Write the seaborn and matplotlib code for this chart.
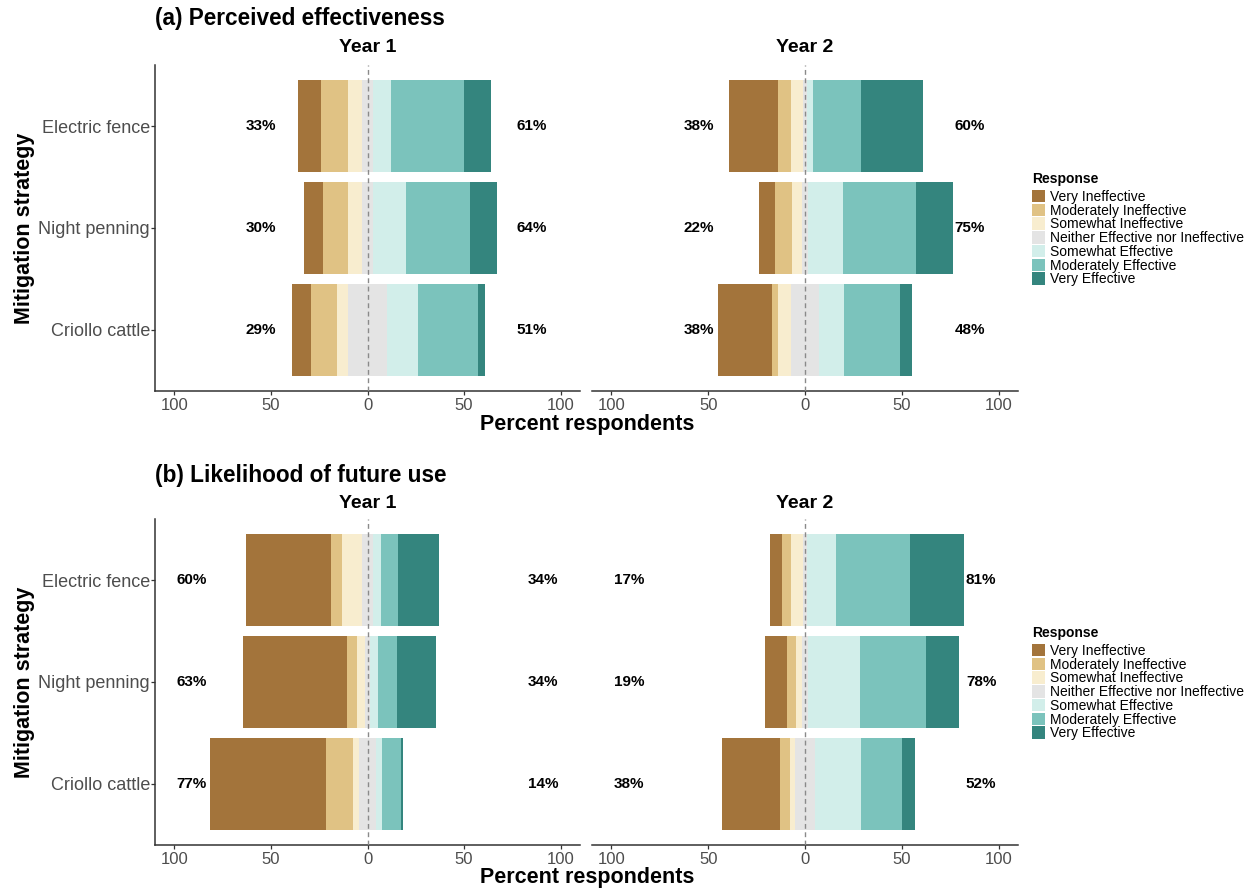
import numpy as np
import pandas as pd
import matplotlib
matplotlib.use("Agg")
import matplotlib.pyplot as plt
from matplotlib.patches import Patch
import seaborn as sns

# ---- data: percent of respondents in each response level ----
strategies = ["Electric fence", "Night penning", "Criollo cattle"]
responses = ["Very Ineffective", "Moderately Ineffective", "Somewhat Ineffective",
             "Neither Effective nor Ineffective", "Somewhat Effective",
             "Moderately Effective", "Very Effective"]
colors = ["#A3743B", "#E0C284", "#F8EDCF", "#E4E4E4", "#D2EEEA", "#7BC3BC", "#34857E"]

# rows follow `strategies`, columns follow `responses`
effect_year1 = [[12, 14, 7, 6, 9, 38, 14],
                [10, 13, 7, 6, 17, 33, 14],
                [10, 13, 6, 20, 16, 31, 4]]
effect_year2 = [[25, 7, 6, 2, 3, 25, 32],
                [8, 9, 5, 3, 18, 38, 19],
                [28, 3, 7, 14, 13, 29, 6]]
future_year1 = [[44, 6, 10, 6, 4, 9, 21],
                [54, 5, 4, 3, 4, 10, 20],
                [60, 14, 3, 9, 3, 10, 1]]
future_year2 = [[6, 5, 6, 2, 15, 38, 28],
                [11, 5, 3, 3, 27, 34, 17],
                [30, 5, 3, 10, 24, 21, 7]]

panel_titles = ["(a) Perceived effectiveness", "(b) Likelihood of future use"]
year_titles = ["Year 1", "Year 2"]
tick_values = [-100, -50, 0, 50, 100]
tick_labels = ["100", "50", "0", "50", "100"]

FONT = "Liberation Sans"
sns.set_theme(style="white")
plt.rcParams["font.family"] = [FONT, "DejaVu Sans"]
plt.rcParams["text.color"] = "black"

W, H = 1256, 892
fig = plt.figure(figsize=(W / 100, H / 100), dpi=100)


def fx(px):
    return px / W


def fy(py):
    return 1 - py / H


def add_axes_px(left, top, right, bottom):
    return fig.add_axes([fx(left), fy(bottom), fx(right) - fx(left), fy(top) - fy(bottom)])


# stacking layers: outer segments first, inner ones painted on top
layer_order = ["VI-", "MI-", "SI-", "N-", "VE+", "ME+", "SE+", "N+"]
layer_colors = {"VI-": colors[0], "MI-": colors[1], "SI-": colors[2], "N-": colors[3],
                "VE+": colors[6], "ME+": colors[5], "SE+": colors[4], "N+": colors[3]}


def diverging_frame(values):
    v = np.asarray(values, dtype=float)
    half = v[:, 3] / 2
    rows = []
    for i, s in enumerate(strategies):
        neg = np.cumsum(v[i, 2::-1])          # SI, SI+MI, SI+MI+VI
        pos = np.cumsum(v[i, 4:])             # SE, SE+ME, SE+ME+VE
        ends = {"VI-": -(half[i] + neg[2]), "MI-": -(half[i] + neg[1]),
                "SI-": -(half[i] + neg[0]), "N-": -half[i],
                "VE+": half[i] + pos[2], "ME+": half[i] + pos[1],
                "SE+": half[i] + pos[0], "N+": half[i]}
        for layer in layer_order:
            rows.append({"strategy": s, "layer": layer, "value": ends[layer]})
    return pd.DataFrame(rows)


def draw_facet(ax, values, label_pos, first):
    df = diverging_frame(values)
    sns.barplot(data=df, x="value", y="strategy", hue="layer", hue_order=layer_order,
                palette=layer_colors, order=strategies, orient="h", dodge=False,
                width=0.9, saturation=1, errorbar=None, legend=False,
                linewidth=0, ax=ax)
    ax.axvline(0, color="#8a8a8a", lw=1.0, ls=(0, (3.5, 2.5)), zorder=5)

    v = np.asarray(values)
    for i in range(len(strategies)):
        ax.text(label_pos[0], i, f"{int(v[i, :3].sum())}%", ha="center", va="center",
                fontsize=11, fontweight="bold", color="black")
        ax.text(label_pos[1], i, f"{int(v[i, 4:].sum())}%", ha="center", va="center",
                fontsize=11, fontweight="bold", color="black")

    ax.set_xlim(-110, 110)
    ax.set_ylim(2.6, -0.6)
    ax.set_xticks(tick_values)
    ax.set_xticklabels(tick_labels)
    ax.set_xlabel("")
    ax.set_ylabel("")
    for side in ["top", "right"]:
        ax.spines[side].set_visible(False)
    for side in ["left", "bottom"]:
        ax.spines[side].set_color("#333333")
        ax.spines[side].set_linewidth(1.1)
    ax.tick_params(axis="x", which="both", bottom=True, length=2.75, width=0.9,
                   color="#333333", labelsize=12, labelcolor="#4D4D4D", pad=2)
    if first:
        ax.tick_params(axis="y", left=True, length=2.75, width=0.9, color="#333333",
                       labelsize=13, labelcolor="#4D4D4D", pad=0.8)
    else:
        ax.spines["left"].set_visible(False)
        ax.tick_params(axis="y", left=False, labelleft=False)


panels = [
    dict(data=[effect_year1, effect_year2], top=65, bottom=391, labels=(-55, 85),
         title_y=19, year_y=47, xlabel_y=424, legend_y=179),
    dict(data=[future_year1, future_year2], top=519, bottom=845, labels=(-91, 91),
         title_y=475, year_y=503, xlabel_y=878, legend_y=633),
]
facet_x = [(155, 580), (592, 1018)]

handles = [Patch(facecolor=c, edgecolor="none", label=r) for c, r in zip(colors, responses)]

for p, panel in enumerate(panels):
    for k, (x0, x1) in enumerate(facet_x):
        ax = add_axes_px(x0, panel["top"], x1, panel["bottom"])
        draw_facet(ax, panel["data"][k], panel["labels"], first=(k == 0))
        fig.text(fx((x0 + x1) / 2), fy(panel["year_y"]), year_titles[k], ha="center",
                 va="center", fontsize=14, fontweight="bold")
    fig.text(fx(155), fy(panel["title_y"]), panel_titles[p], ha="left", va="center",
             fontsize=16.3, fontweight="bold")
    fig.text(fx(587), fy(panel["xlabel_y"]), "Percent respondents", ha="center",
             va="center", fontsize=15.5, fontweight="bold")
    fig.text(fx(25), fy((panel["top"] + panel["bottom"]) / 2), "Mitigation strategy",
             ha="center", va="center", rotation=90, fontsize=15.5, fontweight="bold")

    # legend: title as text, keys stacked underneath
    fig.text(fx(1032), fy(panel["legend_y"]), "Response", ha="left", va="center",
             fontsize=10, fontweight="bold")
    fig.legend(handles=handles, loc="upper left",
               bbox_to_anchor=(fx(1032), fy(panel["legend_y"] + 11)),
               frameon=False, fontsize=10,
               handlelength=0.95, handleheight=1.0, handletextpad=0.35,
               labelspacing=-0.02, borderpad=0, borderaxespad=0)

fig.savefig("out.png", dpi=100)
